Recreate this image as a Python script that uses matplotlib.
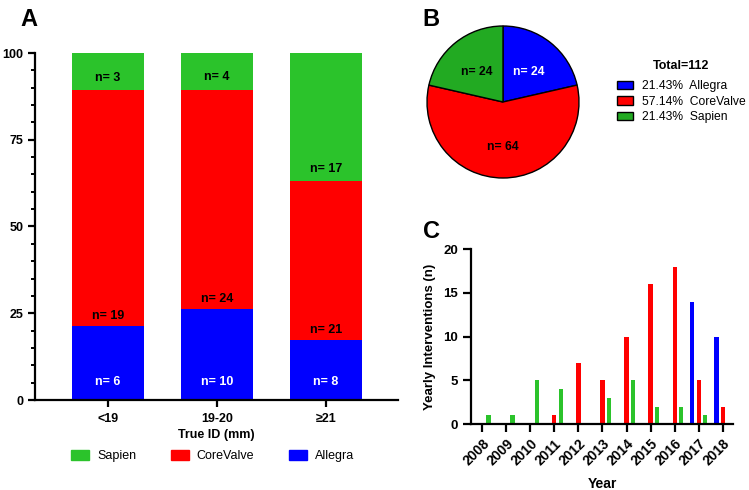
import matplotlib
matplotlib.use("Agg")
import matplotlib.pyplot as plt
from matplotlib.ticker import MultipleLocator
from matplotlib.patches import Patch
import numpy as np

plt.rcParams['font.family'] = ['Liberation Sans', 'DejaVu Sans']

# --- data ---
# panel A: counts per true ID group
id_groups = ['<19', '19-20', '≥21']
allegra_n = [6, 10, 8]
corevalve_n = [19, 24, 21]
sapien_n = [3, 4, 17]

# panel B: totals
pie_names = ['Allegra', 'CoreValve', 'Sapien']
pie_n = [24, 64, 24]

# panel C: yearly interventions
years = [2008, 2009, 2010, 2011, 2012, 2013, 2014, 2015, 2016, 2017, 2018]
yr_allegra = [0, 0, 0, 0, 0, 0, 0, 0, 0, 14, 10]
yr_corevalve = [0, 0, 0, 1, 7, 5, 10, 16, 18, 5, 2]
yr_sapien = [1, 1, 5, 4, 0, 3, 5, 2, 2, 1, 0]

BLUE = '#0000FF'
RED = '#FF0000'
GREEN = '#2BC32B'
GREEN_PIE = '#22AA22'

W, H = 749, 490
fig = plt.figure(figsize=(W / 100, H / 100), dpi=100)


def px_axes(left, top, right, bottom):
    return fig.add_axes([left / W, 1 - bottom / H, (right - left) / W, (bottom - top) / H])


def style_axes(ax, size, length):
    for s in ['top', 'right']:
        ax.spines[s].set_visible(False)
    for s in ['left', 'bottom']:
        ax.spines[s].set_linewidth(1.6)
    ax.tick_params(width=1.6, length=length, labelsize=size)
    ax.tick_params(which='minor', width=1.4, length=length * 0.6)
    for lab in ax.get_xticklabels() + ax.get_yticklabels():
        lab.set_fontweight('bold')


# ---------------- panel A ----------------
axA = px_axes(35, 53, 398, 400)
a = np.array(allegra_n, float)
c = np.array(corevalve_n, float)
s = np.array(sapien_n, float)
tot = a + c + s
pa, pc, ps = a / tot * 100, c / tot * 100, s / tot * 100
x = np.arange(len(id_groups))
axA.bar(x, pa, width=0.66, color=BLUE, label='Allegra')
axA.bar(x, pc, width=0.66, bottom=pa, color=RED, label='CoreValve')
axA.bar(x, ps, width=0.66, bottom=pa + pc, color=GREEN, label='Sapien')
for i in range(len(x)):
    axA.text(x[i], 5.3, 'n= %d' % a[i], ha='center', va='center', color='white',
             fontsize=9, fontweight='bold')
    axA.text(x[i], pa[i] + 2.9, 'n= %d' % c[i], ha='center', va='center',
             fontsize=9, fontweight='bold')
    axA.text(x[i], pa[i] + pc[i] + 3.6, 'n= %d' % s[i], ha='center', va='center',
             fontsize=9, fontweight='bold')
axA.set_xlim(-0.67, 2.66)
axA.set_ylim(0, 100)
axA.set_xticks(x)
axA.set_xticklabels(id_groups)
axA.yaxis.set_major_locator(MultipleLocator(25))
axA.yaxis.set_minor_locator(MultipleLocator(5))
axA.set_xlabel('True ID (mm)', fontsize=9, fontweight='bold', labelpad=3)
style_axes(axA, 9, 5)
axA.tick_params(axis='x', labelsize=9, pad=4)
handles = [Patch(color=GREEN, label='Sapien'), Patch(color=RED, label='CoreValve'),
           Patch(color=BLUE, label='Allegra')]
fig.legend(handles=handles, loc='center left', bbox_to_anchor=(71 / W, 1 - 456 / H), ncol=3,
           frameon=False, fontsize=9, handlelength=1.45, handleheight=0.85,
           columnspacing=2.75, handletextpad=0.64, borderpad=0, borderaxespad=0)
fig.text(20 / W, 1 - 20 / H, 'A', fontsize=17, fontweight='bold', va='center')

# ---------------- panel B ----------------
r = 76 * 1.04
axB = px_axes(503 - r, 102 - r, 503 + r, 102 + r)
wedges, _ = axB.pie(pie_n, colors=[BLUE, RED, GREEN_PIE], startangle=90, counterclock=False,
                    wedgeprops=dict(edgecolor='black', linewidth=1.0), radius=1)
axB.set_xlim(-1.04, 1.04)
axB.set_ylim(-1.04, 1.04)
axB.set_aspect('equal')
axB.axis('off')
ang = 90.0
label_cols = ['white', 'black', 'black']
for k, n in enumerate(pie_n):
    sweep = n / sum(pie_n) * 360
    mid = np.deg2rad(ang - sweep / 2)
    axB.text(0.55 * np.cos(mid), 0.55 * np.sin(mid) - 0.04, 'n= %d' % n, ha='center',
             va='center', fontsize=8.7, fontweight='bold', color=label_cols[k])
    ang -= sweep
pct_labels = ['%.2f%%  %s' % (n / sum(pie_n) * 100, nm) for n, nm in zip(pie_n, pie_names)]
fig.text(681 / W, 1 - 66 / H, 'Total=%d' % sum(pie_n), ha='center', va='center',
         fontsize=9, fontweight='bold')
fig.legend(wedges, pct_labels, loc='upper left', bbox_to_anchor=(617 / W, 1 - 80 / H),
           frameon=False, fontsize=8.7, handlelength=1.35,
           handleheight=0.7, handletextpad=0.75, labelspacing=0.3,
           borderpad=0, borderaxespad=0)
fig.text(422 / W, 1 - 20 / H, 'B', fontsize=17, fontweight='bold', va='center')

# ---------------- panel C ----------------
axC = px_axes(471, 249, 733, 424)
yr = np.array(years)
bw = 0.18
off = 0.27
axC.bar(yr - off, yr_allegra, width=bw, color=BLUE)
axC.bar(yr, yr_corevalve, width=bw, color=RED)
axC.bar(yr + off, yr_sapien, width=bw, color=GREEN)
axC.set_xlim(2007.54, 2018.42)
axC.set_ylim(0, 20)
axC.set_xticks(years)
axC.set_xticklabels([str(y) for y in years], rotation=45, ha='right', rotation_mode='anchor')
axC.yaxis.set_major_locator(MultipleLocator(5))
style_axes(axC, 9.5, 6)
axC.tick_params(axis='x', labelsize=10, pad=3)
axC.set_ylabel('Yearly Interventions (n)', fontsize=9.5, fontweight='bold', labelpad=5)
axC.set_xlabel('Year', fontsize=10, fontweight='bold', labelpad=6)
fig.text(423 / W, 1 - 231 / H, 'C', fontsize=17, fontweight='bold', va='center')

fig.savefig('out.png', dpi=100)
